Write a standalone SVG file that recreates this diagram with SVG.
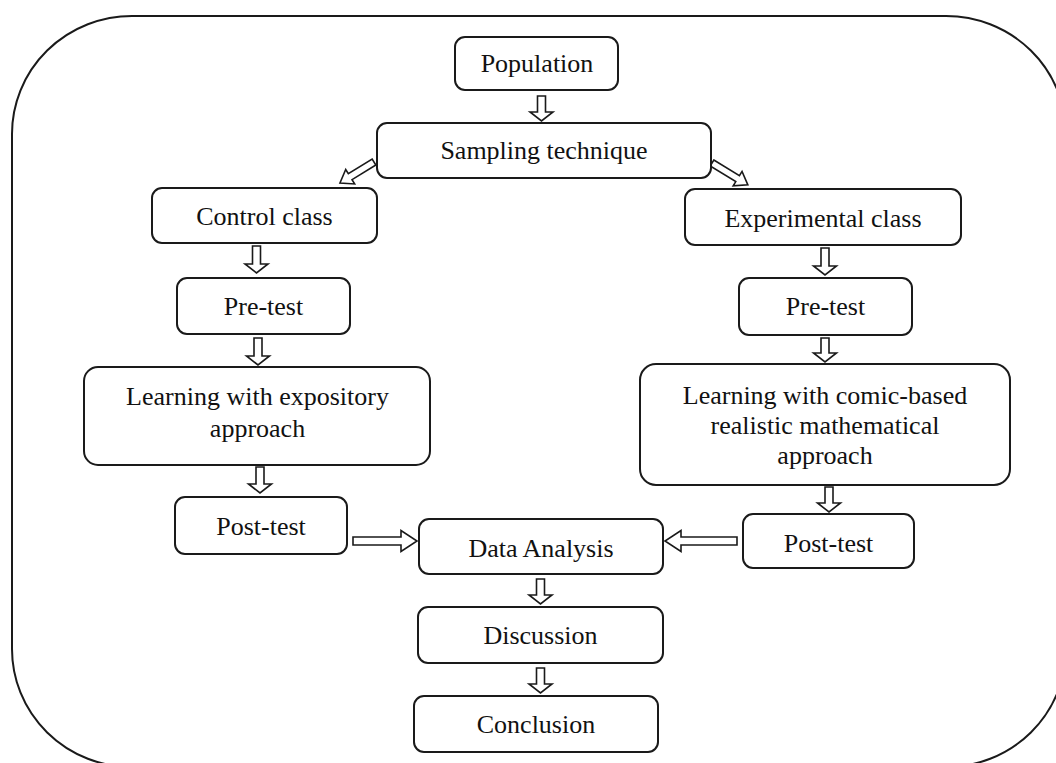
<svg xmlns="http://www.w3.org/2000/svg" width="1056" height="763" viewBox="0 0 1056 763">
<style>
.frame{fill:none;stroke:#1a1a1a;stroke-width:2}
.box{fill:#fff;stroke:#1a1a1a;stroke-width:2}
.arr{fill:#fff;stroke:#1a1a1a;stroke-width:1.6;stroke-linejoin:miter}
text{font-family:"Liberation Serif","Times New Roman",serif;font-size:26px;fill:#111;text-anchor:middle}
</style>
<rect width="1056" height="763" fill="#fff"/>
<rect class="frame" x="12" y="16" width="1054" height="751" rx="120" ry="118"/>
<g id="connectors">
<polygon class="arr" points="537.5,96 545.5,96 545.5,112 553,112 541.5,121 530,112 537.5,112"/>
<polygon class="arr" transform="translate(374,162) rotate(148.3)" points="0,-3.5 28,-3.5 28,-8.5 40,0 28,8.5 28,3.5 0,3.5"/>
<polygon class="arr" transform="translate(712,163) rotate(31.4)" points="0,-3.5 30,-3.5 30,-8.5 42,0 30,8.5 30,3.5 0,3.5"/>
<polygon class="arr" points="252.5,246 260.5,246 260.5,264 268,264 256.5,273 245,264 252.5,264"/>
<polygon class="arr" points="254,338 262,338 262,356 269.5,356 258,365 246.5,356 254,356"/>
<polygon class="arr" points="256,467 264,467 264,484 271.5,484 260,493 248.5,484 256,484"/>
<polygon class="arr" points="821,248 829,248 829,266 836.5,266 825,275 813.5,266 821,266"/>
<polygon class="arr" points="821,338 829,338 829,353 836.5,353 825,362 813.5,353 821,353"/>
<polygon class="arr" points="825,487 833,487 833,503 840.5,503 829,512 817.5,503 825,503"/>
<polygon class="arr" points="353,537 401,537 401,530.5 417,541 401,551.5 401,545 353,545"/>
<polygon class="arr" points="737,537 681,537 681,530.5 665,541 681,551.5 681,545 737,545"/>
<polygon class="arr" points="536.5,579 544.5,579 544.5,595 552,595 540.5,604 529,595 536.5,595"/>
<polygon class="arr" points="536.5,668 544.5,668 544.5,684 552,684 540.5,693 529,684 536.5,684"/>
</g>
<g id="population"><rect class="box" x="455" y="37" width="163" height="53" rx="10"/><text x="537" y="72">Population</text></g>
<g id="sampling"><rect class="box" x="377" y="123" width="334" height="55" rx="10"/><text x="544" y="159">Sampling technique</text></g>
<g id="control-class"><rect class="box" x="152" y="188" width="225" height="55" rx="10"/><text x="264.5" y="225">Control class</text></g>
<g id="pretest-control"><rect class="box" x="177" y="278" width="173" height="56" rx="10"/><text x="263.5" y="315">Pre-test</text></g>
<g id="learning-expository"><rect class="box" x="84" y="367" width="346" height="98" rx="14"/><text x="257.5" y="405">Learning with expository</text><text x="257.5" y="437">approach</text></g>
<g id="posttest-control"><rect class="box" x="175" y="497" width="172" height="57" rx="10"/><text x="261" y="535">Post-test</text></g>
<g id="experimental-class"><rect class="box" x="685" y="189" width="276" height="56" rx="10"/><text x="823" y="227">Experimental class</text></g>
<g id="pretest-experimental"><rect class="box" x="739" y="278" width="173" height="57" rx="10"/><text x="825.5" y="315">Pre-test</text></g>
<g id="learning-comic"><rect class="box" x="640" y="364" width="370" height="121" rx="16"/><text x="825" y="404">Learning with comic-based</text><text x="825" y="434">realistic mathematical</text><text x="825" y="464">approach</text></g>
<g id="posttest-experimental"><rect class="box" x="743" y="514" width="171" height="54" rx="10"/><text x="828.5" y="552">Post-test</text></g>
<g id="data-analysis"><rect class="box" x="419" y="519" width="244" height="55" rx="10"/><text x="541" y="557">Data Analysis</text></g>
<g id="discussion"><rect class="box" x="418" y="607" width="245" height="56" rx="10"/><text x="540.5" y="644">Discussion</text></g>
<g id="conclusion"><rect class="box" x="414" y="696" width="244" height="56" rx="10"/><text x="536" y="733">Conclusion</text></g>
</svg>
